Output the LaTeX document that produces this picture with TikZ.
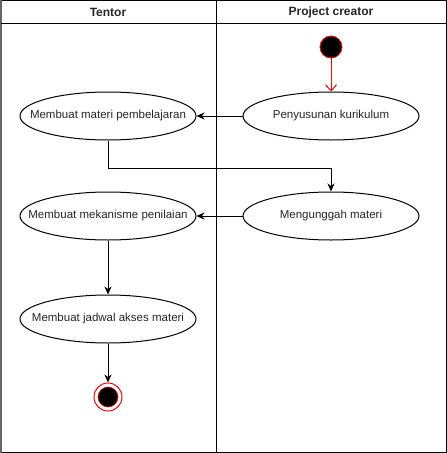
\documentclass[tikz,border=0pt]{standalone}
\usepackage{fontspec}
\setmainfont{Liberation Sans}
\usetikzlibrary{arrows.meta,shapes.geometric}
\begin{document}
\begin{tikzpicture}[x=1pt,y=-1pt,
  usecase/.style={draw,ellipse,line width=1pt,minimum width=176pt,minimum height=48pt,inner sep=0pt,
    label={[font=\fontsize{11.5}{14}\selectfont,text=black!85]center:#1}},
  flow/.style={line width=1pt,-{Stealth[length=8pt,width=7pt,inset=2.5pt]}},
  hdr/.style={font=\bfseries\fontsize{12}{14}\selectfont,text=black!85}]
\useasboundingbox (0,0) rectangle (447,453);
\draw[line width=1pt] (0.5,0.5) rectangle (446.5,452.5);
\draw[line width=2pt,black!60] (1,0) -- (1,453);
\draw[line width=1pt] (0.5,23) -- (446.5,23);
\draw[line width=1pt] (216,0.5) -- (216,452.5);
\node[hdr] (h1) at (108,12) {Tentor};
\node[hdr] (h2) at (331,12) {Project creator};
\node[circle,fill=black,draw=red,line width=0.8pt,minimum size=22pt,inner sep=0pt] (start) at (331,47) {};
\node[usecase={Penyusunan kurikulum}] (pk) at (331,116) {};
\node[usecase={Membuat materi pembelajaran}] (mp) at (108,116) {};
\node[usecase={Mengunggah materi}] (mm) at (331,216) {};
\node[usecase={Membuat mekanisme penilaian}] (mn) at (108,216) {};
\node[usecase={Membuat jadwal akses materi}] (mj) at (108,319) {};
\node[circle,draw=red,fill=white,line width=1pt,minimum size=28pt,inner sep=0pt] (end) at (108,397) {};
\node[circle,fill=black,draw=red,line width=0.6pt,minimum size=20pt,inner sep=0pt] (endin) at (108,397) {};
\draw[red,line width=1pt,-{Straight Barb[length=6pt,width=11pt]}] (start) -- (pk);
\draw[flow] (pk) -- (mp);
\draw[flow] (mp.south) -- (108,168) -| (mm.north);
\draw[flow] (mm) -- (mn);
\draw[flow] (mn) -- (mj);
\draw[flow] (mj) -- (end);
\end{tikzpicture}
\end{document}
